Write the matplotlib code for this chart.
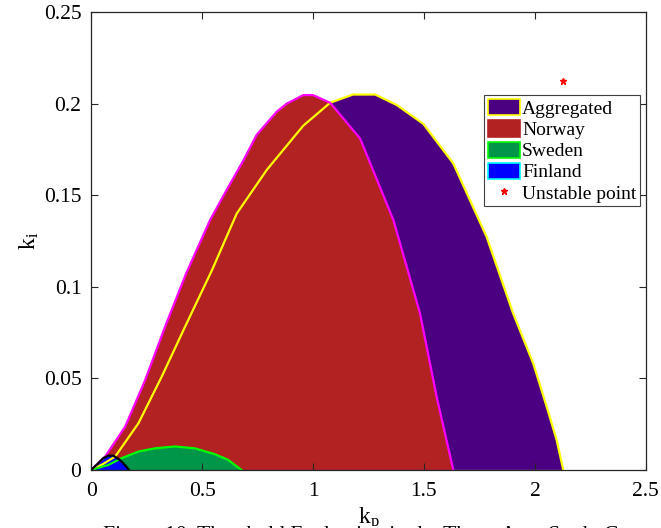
import numpy as np
import matplotlib
matplotlib.use("Agg")
import matplotlib.pyplot as plt
from matplotlib.patches import Patch
from matplotlib.lines import Line2D

plt.rcParams['font.family'] = ['Liberation Serif', 'DejaVu Serif']
plt.rcParams['mathtext.fontset'] = 'custom'
plt.rcParams['mathtext.rm'] = 'Liberation Serif'

# stability boundaries in the (kp, ki) plane
agg_kp = [0, 0.05, 0.108, 0.213, 0.318, 0.423, 0.544, 0.656, 0.791, 0.956, 1.077,
          1.18, 1.28, 1.377, 1.497, 1.632, 1.782, 1.902, 1.993, 2.053, 2.098, 2.128]
agg_ki = [0, 0.003, 0.0073, 0.0255, 0.051, 0.0782, 0.109, 0.140, 0.1638, 0.188, 0.2005,
          0.205, 0.205, 0.1993, 0.189, 0.1674, 0.1274, 0.0855, 0.058, 0.0346, 0.0164, 0]

nor_kp = [0, 0.063, 0.153, 0.243, 0.333, 0.427, 0.536, 0.611, 0.686, 0.746, 0.836,
          0.881, 0.956, 1.0, 1.077, 1.212, 1.362, 1.482, 1.557, 1.632]
nor_ki = [0, 0.0073, 0.0236, 0.049, 0.0782, 0.107, 0.1365, 0.153, 0.169, 0.183, 0.1956,
          0.200, 0.2047, 0.2047, 0.2005, 0.181, 0.1365, 0.0855, 0.040, 0]

swe_kp = [0, 0.077, 0.137, 0.212, 0.287, 0.377, 0.467, 0.557, 0.617, 0.677]
swe_ki = [0, 0.0027, 0.0064, 0.0100, 0.0118, 0.0128, 0.0118, 0.0086, 0.0055, 0]

fin_kp = [0, 0.032, 0.054, 0.077, 0.099, 0.129, 0.152, 0.17]
fin_ki = [0, 0.0037, 0.0064, 0.0078, 0.0078, 0.0055, 0.0027, 0]

unstable_kp = [2.126]
unstable_ki = [0.2123]

areas = [
    ("Aggregated", agg_kp, agg_ki, "#4b0082", "#ffff00", "#ffff00"),
    ("Norway", nor_kp, nor_ki, "#b22222", "#ff00ff", "#b22222"),
    ("Sweden", swe_kp, swe_ki, "#00964a", "#00ff00", "#00ff00"),
    ("Finland", fin_kp, fin_ki, "#0000ff", "#000000", "#00ffff"),
]

fig = plt.figure(figsize=(6.61, 5.28), dpi=100)
ax = fig.add_axes([0.138, 0.110, 0.839, 0.867])

for name, kp, ki, face, edge, _ in areas:
    ax.fill(kp, ki, color=face, lw=0)
for name, kp, ki, face, edge, _ in areas:
    ax.plot(kp, ki, color=edge, lw=1.6)

ax.plot(unstable_kp, unstable_ki, ls='none', marker='*', color='red', ms=5)

ax.set_xlim(0, 2.5)
ax.set_ylim(0, 0.25)
ax.set_xticks([0, 0.5, 1, 1.5, 2, 2.5])
ax.set_xticklabels(['0', '0.5', '1', '1.5', '2', '2.5'])
ax.set_yticks([0, 0.05, 0.1, 0.15, 0.2, 0.25])
ax.set_yticklabels(['0', '0.05', '0.1', '0.15', '0.2', '0.25'])
ax.tick_params(direction='in', top=True, right=True, labelsize=15.5, length=5,
               color='#262626')
ax.tick_params(axis='x', pad=9)
ax.tick_params(axis='y', pad=7)
for s in ax.spines.values():
    s.set_color('#262626')
    s.set_linewidth(0.9)

ax.set_ylabel(r'$\mathregular{k_i}$', fontsize=17, labelpad=2)
ax.set_xlabel(r'$\mathregular{k_p}$', fontsize=17, labelpad=3)

handles = [Patch(facecolor=face, edgecolor=leg_edge, lw=1.2)
           for name, kp, ki, face, edge, leg_edge in areas]
handles.append(Line2D([], [], ls='none', marker='*', color='red', ms=5))
labels = [a[0] for a in areas] + ['Unstable point']
leg = ax.legend(handles, labels, loc='upper right', bbox_to_anchor=(0.99, 0.818),
                fontsize=14, frameon=True, fancybox=False, framealpha=1,
                edgecolor='#404040', handlelength=1.65, handleheight=0.9,
                handletextpad=0.1, labelspacing=0.12, borderpad=0.2,
                borderaxespad=0)
leg.get_frame().set_linewidth(0.8)

fig.text(0.156, -0.022, 'Figure 10. Threshold Evaluation in the Three-Area Study Case',
         fontsize=15.6, va='baseline', ha='left',
         bbox=dict(facecolor='white', edgecolor='none', pad=0))

fig.savefig('out.png', dpi=100)
